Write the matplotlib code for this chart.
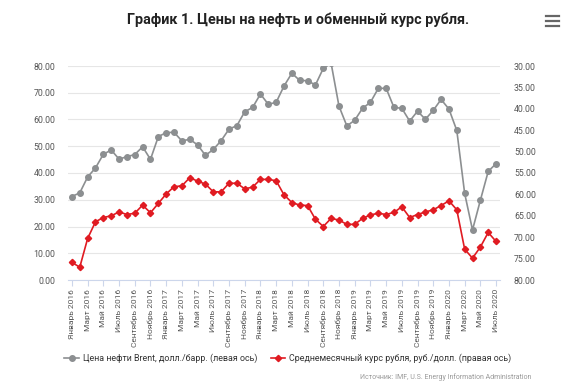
import matplotlib
matplotlib.use('Agg')
import matplotlib.pyplot as plt
from matplotlib.lines import Line2D
import numpy as np

plt.rcParams['font.family'] = ['Roboto', 'DejaVu Sans']

# month names / years for the category axis
month_names = ['Январь', 'Февраль', 'Март', 'Апрель', 'Май', 'Июнь',
               'Июль', 'Август', 'Сентябрь', 'Октябрь', 'Ноябрь', 'Декабрь']
years = [2016, 2017, 2018, 2019, 2020]
categories = [f'{m} {y}' for y in years for m in month_names][:55]  # Jan 2016 .. Jul 2020

# Brent, USD/bbl (left axis)
brent = [31.2, 32.6, 38.5, 41.9, 47.0, 48.6, 45.2, 46.1, 46.9, 49.8, 45.1, 53.6,
         55.1, 55.2, 52.0, 52.6, 50.5, 46.6, 48.8, 52.1, 56.4, 57.7, 62.9, 64.5,
         69.5, 65.7, 66.4, 72.5, 77.3, 74.6, 74.5, 72.9, 79.1, 81.0, 65.0, 57.6,
         59.7, 64.2, 66.4, 71.6, 71.7, 64.5, 64.2, 59.4, 63.1, 60.1, 63.4, 67.5,
         63.9, 55.9, 32.4, 18.7, 29.8, 40.6, 43.5]

# RUB per USD, monthly average (right axis, inverted)
rub = [75.9, 77.0, 70.3, 66.4, 65.4, 65.0, 64.1, 64.7, 64.4, 62.5, 64.3, 62.1,
       59.9, 58.2, 58.0, 56.1, 56.9, 57.6, 59.4, 59.4, 57.4, 57.4, 58.7, 58.3,
       56.5, 56.5, 56.8, 60.1, 61.9, 62.5, 62.6, 65.8, 67.5, 65.6, 66.0, 67.0,
       67.0, 65.6, 64.8, 64.4, 64.7, 64.2, 62.9, 65.4, 64.7, 64.1, 63.6, 62.6,
       61.5, 63.6, 72.8, 74.9, 72.3, 68.9, 71.0]

W, H = 566, 390
fig = plt.figure(figsize=(W / 100, H / 100), dpi=100)
fig.patch.set_facecolor('white')

L, R, T, B = 68, 500, 66, 280
ax = fig.add_axes([L / W, 1 - B / H, (R - L) / W, (B - T) / H])
ax2 = ax.twinx()

grey = '#8c8f91'
red = '#e01b22'
x = np.arange(len(categories))

ax.plot(x, brent, color=grey, lw=1.2, marker='o', ms=4.0, zorder=3)
ax2.plot(x, rub, color=red, lw=1.2, marker='D', ms=3.2, zorder=3)

ax.set_xlim(-0.5, len(categories) - 0.5)
ax.set_ylim(0, 80)
ax2.set_ylim(80, 30)

ax.set_yticks(np.arange(0, 81, 10))
ax.set_yticklabels([f'{v:.2f}' for v in np.arange(0, 81, 10)])
ax2.set_yticks(np.arange(30, 81, 5))
ax2.set_yticklabels([f'{v:.2f}' for v in np.arange(30, 81, 5)])

ax.grid(axis='y', color='#e6e6e6', lw=0.8)
ax.set_axisbelow(True)
for a in (ax, ax2):
    for s in a.spines.values():
        s.set_visible(False)
ax.spines['bottom'].set_visible(True)
ax.spines['bottom'].set_color('#ccd6eb')
ax.spines['bottom'].set_linewidth(0.8)

ax.set_xticks(x[::2])
ax.set_xticklabels(categories[::2], rotation=90, fontsize=6, color='#555555')
ax.tick_params(axis='x', length=4, width=0.8, color='#ccd6eb', pad=2.5)
ax.tick_params(axis='y', length=0, labelsize=6.3, labelcolor='#555555', pad=9)
ax2.tick_params(axis='y', length=0, labelsize=6.3, labelcolor='#555555', pad=10)

fig.text(298 / W, 1 - 20 / H, 'График 1. Цены на нефть и обменный курс рубля.',
         ha='center', va='center', fontsize=10.4, fontweight='bold', color='#222222')

# menu icon
for py in (16, 21, 26):
    fig.add_artist(Line2D([546 / W, 559 / W], [1 - py / H, 1 - py / H],
                          color='#666666', lw=1.6, transform=fig.transFigure))

handles = [Line2D([], [], color=grey, lw=1.2, marker='o', ms=4.0),
           Line2D([], [], color=red, lw=1.2, marker='D', ms=3.2)]
labels = ['Цена нефти Brent, долл./барр. (левая ось)',
          'Среднемесячный курс рубля, руб./долл. (правая ось)']
fig.legend(handles, labels, loc='center', bbox_to_anchor=(288 / W, 1 - 358 / H),
           ncol=2, frameon=False, fontsize=6.4, handlelength=1.6,
           columnspacing=1.5, handletextpad=0.5, labelcolor='#333333')

fig.text(531 / W, 1 - 377 / H, 'Источник: IMF, U.S. Energy Information Administration',
         ha='right', va='center', fontsize=5, color='#999999')

fig.savefig('out.png', dpi=100)
